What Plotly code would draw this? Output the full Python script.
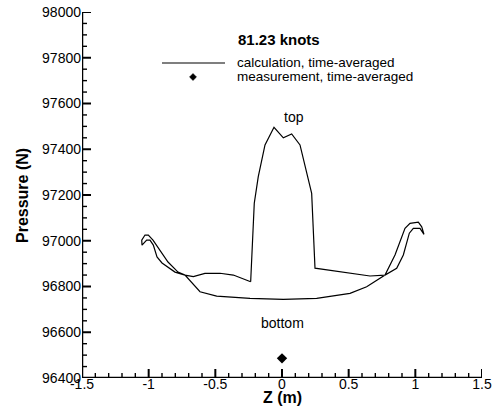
import plotly.graph_objects as go

# Calculated pressure loop around the hull cross-section (Z in m, pressure in N)
calc_z = [-0.235, -0.365, -0.465, -0.578, -0.665, -0.7275, -0.8025, -0.9, -0.9375, -0.965,
          -0.99, -1.015, -1.05, -1.052, -1.0275, -1.0025, -0.9675, -0.915, -0.855, -0.78,
          -0.7275, -0.615, -0.49, -0.24, 0.01, 0.26, 0.51, 0.635, 0.7725, 0.8475,
          0.9225, 0.96, 1.0225, 1.048, 1.065, 1.035, 0.985, 0.955, 0.91, 0.86,
          0.7725, 0.66, 0.36, 0.2475, 0.2225, 0.185, 0.135, 0.0725, 0.01, -0.06,
          -0.1275, -0.178, -0.208, -0.235]
calc_p = [96821, 96850, 96858, 96857, 96843, 96850, 96863, 96903, 96929, 96981,
          97003, 97003, 96981, 97003, 97025, 97025, 97003, 96960, 96907, 96863,
          96850, 96777, 96758, 96748, 96744, 96748, 96770, 96799, 96850, 96938,
          97054, 97076, 97081, 97061, 97028, 97054, 97054, 97033, 96938, 96880,
          96850, 96846, 96872, 96880, 97207, 97302, 97419, 97467, 97450, 97496,
          97419, 97280, 97164, 96821]

meas_z = [0.0]
meas_p = [96486]

title_text = "81.23 knots"
legend_labels = ["calculation, time-averaged", "measurement, time-averaged"]
x_range = [-1.5, 1.5]
y_range = [96400, 98000]
x_ticks = [-1.5, -1, -0.5, 0, 0.5, 1, 1.5]
x_ticklabels = ["-1.5", "-1", "-0.5", "0", "0.5", "1", "1.5"]
y_ticks = [96400, 96600, 96800, 97000, 97200, 97400, 97600, 97800, 98000]
y_ticklabels = ["96400", "96600", "96800", "97000", "97200", "97400", "97600", "97800", "98000"]

x_minor = [i / 10 for i in range(-15, 16) if i % 5 != 0]
y_minor = [96400 + 50 * i for i in range(33) if i % 4 != 0]

FONT = "Liberation Sans"

# plot area in pixels (for placing legend/title in paper coordinates)
L, R, T, B = 82, 482, 12, 378
X_PER_PX = (x_range[1] - x_range[0]) / (R - L)
Y_PER_PX = (y_range[1] - y_range[0]) / (B - T)


def px(xp):
    return (xp - L) / (R - L)


def py(yp):
    return (B - yp) / (B - T)


fig = go.Figure()
fig.add_trace(go.Scatter(x=calc_z, y=calc_p, mode="lines",
                         line=dict(color="black", width=1.2), showlegend=False))
fig.add_trace(go.Scatter(x=meas_z, y=meas_p, mode="markers",
                         marker=dict(symbol="diamond", size=8, color="black"),
                         showlegend=False))

# Axis frame (left + bottom) and inward tick marks, drawn as unclipped line traces
fig.add_trace(go.Scatter(x=[x_range[0], x_range[0], x_range[1]],
                         y=[y_range[1], y_range[0], y_range[0]],
                         mode="lines", line=dict(color="black", width=2.5),
                         cliponaxis=False, hoverinfo="skip", showlegend=False))

tx_major, ty_major, tx_minor, ty_minor = [], [], [], []
for v in x_ticks:
    tx_major += [v, v, None]
    ty_major += [y_range[0], y_range[0] + 9 * Y_PER_PX, None]
for v in y_ticks:
    tx_major += [x_range[0], x_range[0] + 9 * X_PER_PX, None]
    ty_major += [v, v, None]
for v in x_minor:
    tx_minor += [v, v, None]
    ty_minor += [y_range[0], y_range[0] + 5 * Y_PER_PX, None]
for v in y_minor:
    tx_minor += [x_range[0], x_range[0] + 5 * X_PER_PX, None]
    ty_minor += [v, v, None]

fig.add_trace(go.Scatter(x=tx_major, y=ty_major, mode="lines",
                         line=dict(color="black", width=2), connectgaps=False,
                         cliponaxis=False, hoverinfo="skip", showlegend=False))
fig.add_trace(go.Scatter(x=tx_minor, y=ty_minor, mode="lines",
                         line=dict(color="black", width=1.4), connectgaps=False,
                         cliponaxis=False, hoverinfo="skip", showlegend=False))

# Manual legend (paper coordinates)
fig.add_shape(type="line", xref="paper", yref="paper",
              x0=px(162), x1=px(225), y0=py(63), y1=py(63),
              line=dict(color="black", width=1.2))
fig.add_shape(type="path", xref="paper", yref="paper",
              path="M %f %f L %f %f L %f %f L %f %f Z" % (
                  px(189.5), py(77), px(193), py(73.5), px(196.5), py(77), px(193), py(80.5)),
              fillcolor="black", line=dict(color="black", width=0.5))
for i, lab in enumerate(legend_labels):
    fig.add_annotation(xref="paper", yref="paper",
                       x=px(234.5), y=py(62 + 14 * i),
                       text=lab, showarrow=False, xanchor="left", yanchor="middle",
                       font=dict(family=FONT, size=13.5, color="black"))

fig.add_annotation(xref="paper", yref="paper", x=px(278.5), y=py(40),
                   text="<b>" + title_text + "</b>", showarrow=False,
                   xanchor="center", yanchor="middle",
                   font=dict(family=FONT, size=15, color="black"))
fig.add_annotation(x=0.09, y=97541, text="top", showarrow=False,
                   font=dict(family=FONT, size=14, color="black"))
fig.add_annotation(x=0.0, y=96640, text="bottom", showarrow=False,
                   font=dict(family=FONT, size=14, color="black"))

fig.update_xaxes(range=x_range, tickmode="array", tickvals=x_ticks, ticktext=x_ticklabels,
                 ticks="", showline=False, showgrid=False, zeroline=False,
                 anchor="free", position=(B - 374) / (B - T))
fig.update_yaxes(range=y_range, tickmode="array", tickvals=y_ticks, ticktext=y_ticklabels,
                 ticks="", showline=False, showgrid=False, zeroline=False)

# Axis titles
fig.add_annotation(xref="paper", yref="paper", x=px(282), y=py(397),
                   text="<b>Z (m)</b>", showarrow=False, xanchor="center", yanchor="middle",
                   font=dict(family=FONT, size=16, color="black"))
fig.add_annotation(xref="paper", yref="paper", x=px(22), y=py(196),
                   text="<b>Pressure (N)</b>", showarrow=False, textangle=-90,
                   xanchor="center", yanchor="middle",
                   font=dict(family=FONT, size=16, color="black"))

fig.update_layout(width=499, height=419,
                  margin=dict(l=L, r=499 - R, t=T, b=419 - B, autoexpand=False),
                  plot_bgcolor="white", paper_bgcolor="white",
                  font=dict(family=FONT, size=14, color="black"),
                  showlegend=False)

fig.write_html("out.html")
